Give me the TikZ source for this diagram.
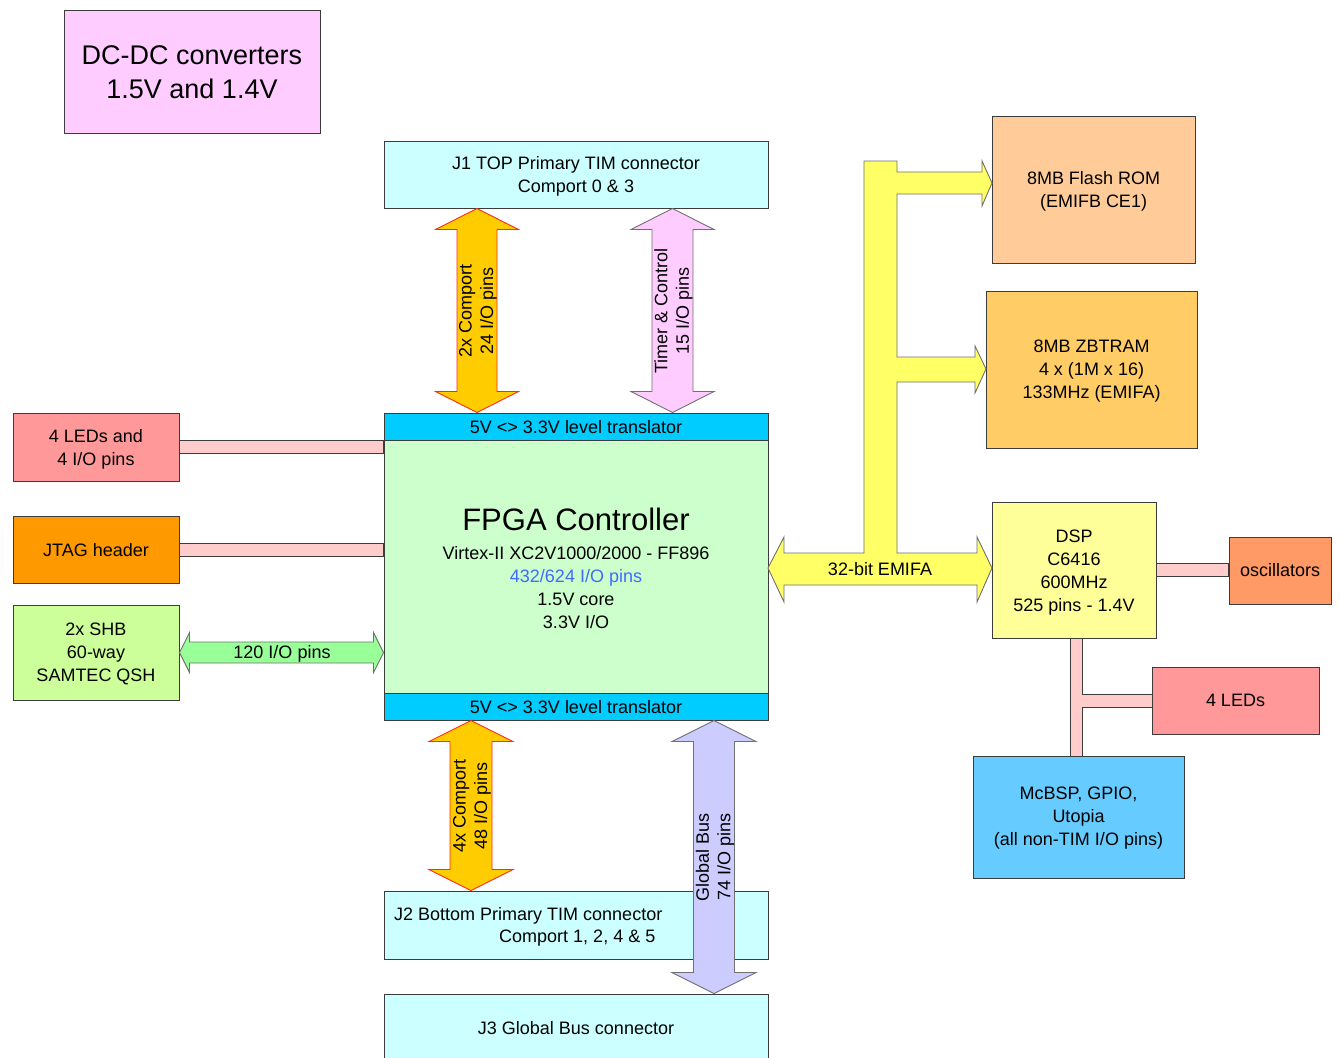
\documentclass[tikz,border=0pt]{standalone}
\usepackage{fontspec}
\setmainfont{Liberation Sans}
\usetikzlibrary{calc}
\definecolor{edge}{HTML}{3C3C3C}
\definecolor{cdcdc}{HTML}{FFCCFF}
\definecolor{cconn}{HTML}{CCFFFF}
\definecolor{ctrans}{HTML}{00CCFF}
\definecolor{cfpga}{HTML}{CCFFCC}
\definecolor{cleds}{HTML}{FF9999}
\definecolor{cjtag}{HTML}{FF9900}
\definecolor{cshb}{HTML}{CCFF99}
\definecolor{cgreenarr}{HTML}{99FF99}
\definecolor{ccomport}{HTML}{FFCC00}
\definecolor{credline}{HTML}{FF2A1A}
\definecolor{ctimer}{HTML}{FFCCFF}
\definecolor{cglobal}{HTML}{CCCCFF}
\definecolor{cemifa}{HTML}{FFFF66}
\definecolor{cflash}{HTML}{FFCC99}
\definecolor{czbt}{HTML}{FFCC66}
\definecolor{cdsp}{HTML}{FFFF99}
\definecolor{cosc}{HTML}{FF9966}
\definecolor{cmcbsp}{HTML}{66CCFF}
\definecolor{cbar}{HTML}{FFCCCC}
\definecolor{ciob}{HTML}{3F6BFF}
\definecolor{carrowedge}{HTML}{707070}
\newcommand\myfs[2]{\fontsize{#1}{#2}\selectfont}
% vertical fat double arrow: style, top tip, bottom tip, half body, half head, head length
\newcommand\vfat[6]{\filldraw[#1] let \p1=(#2), \p2=(#3) in
  (\x1,\y1) -- (\x1+#5pt,\y1-#6pt) -- (\x1+#4pt,\y1-#6pt) -- (\x1+#4pt,\y2+#6pt) --
  (\x1+#5pt,\y2+#6pt) -- (\x1,\y2) -- (\x1-#5pt,\y2+#6pt) -- (\x1-#4pt,\y2+#6pt) --
  (\x1-#4pt,\y1-#6pt) -- (\x1-#5pt,\y1-#6pt) -- cycle;}
% horizontal fat double arrow: style, left tip, right tip, half body, half head, head length
\newcommand\hfat[6]{\filldraw[#1] let \p1=(#2), \p2=(#3) in
  (\x1,\y1) -- (\x1+#6pt,\y1+#5pt) -- (\x1+#6pt,\y1+#4pt) -- (\x2-#6pt,\y1+#4pt) --
  (\x2-#6pt,\y1+#5pt) -- (\x2,\y1) -- (\x2-#6pt,\y1-#5pt) -- (\x2-#6pt,\y1-#4pt) --
  (\x1+#6pt,\y1-#4pt) -- (\x1+#6pt,\y1-#5pt) -- cycle;}
\tikzset{
  box/.style={draw=edge, line width=1pt, inner sep=0pt, align=center, font=\myfs{18}{23}},
  txt/.style={inner sep=0pt, align=center, font=\myfs{18}{23}},
  rtxt/.style={inner sep=0pt, align=center, rotate=90, font=\myfs{18}{21.5}},
  bar/.style={fill=cbar, draw=edge, line width=0.9pt},
  comportarrow/.style={fill=ccomport, draw=credline, line width=0.9pt},
  timerarrow/.style={fill=ctimer, draw=carrowedge, line width=0.9pt},
  globalarrow/.style={fill=cglobal, draw=carrowedge, line width=0.9pt},
  greenarrow/.style={fill=cgreenarr, draw=carrowedge, line width=0.9pt},
  emifabus/.style={fill=cemifa, draw=carrowedge, line width=0.9pt, line join=miter},
}
\begin{document}
\begin{tikzpicture}[x=1pt,y=-1pt]
\useasboundingbox (0,0) rectangle (1340,1057);
\fill[white] (0,0) rectangle (1340,1057);

% boxes
\node[box, fill=cdcdc, minimum width=256pt, minimum height=122pt] (dcdc) at (192,72) {};
\node[txt, font=\myfs{27}{34}] (dcdct) at ($(dcdc)+(0,0.5)$) {DC-DC converters\\1.5V and 1.4V};
\node[box, fill=cconn, minimum width=384pt, minimum height=67pt] (j1) at (576,174.5) {};
\node[txt] (j1t) at ($(j1)+(0,2)$) {J1 TOP Primary TIM connector\\Comport 0 \& 3};
\node[box, fill=cfpga, minimum width=384pt, minimum height=253pt] (fpga) at (576,566.5) {};
\node[box, fill=ctrans, minimum width=384pt, minimum height=27pt] (tr1) at (576,426.5) {};
\node[txt] (tr1t) at ($(tr1)+(0,1)$) {5V <> 3.3V level translator};
\node[box, fill=ctrans, minimum width=384pt, minimum height=27pt] (tr2) at (576,706.5) {};
\node[txt] (tr2t) at ($(tr2)+(0,1)$) {5V <> 3.3V level translator};
\node[txt, font=\myfs{31}{36}] (fpgat) at (576,519.5) {FPGA Controller};
\node[txt] (fpgai) at (576,587.5) {Virtex-II XC2V1000/2000 - FF896\\\textcolor{ciob}{432/624 I/O pins}\\1.5V core\\3.3V I/O};
\node[box, fill=cconn, minimum width=384pt, minimum height=68pt] (j2) at (576,925) {};
\node[txt, anchor=west] (j2a) at (394,915.5) {J2 Bottom Primary TIM connector};
\node[txt, anchor=east] (j2b) at (655.5,938.5) {Comport 1, 2, 4 \& 5};
\node[box, fill=cconn, minimum width=384pt, minimum height=68pt] (j3) at (576,1028) {J3 Global Bus connector};

\node[box, fill=cleds, minimum width=166pt, minimum height=68pt] (leds) at (96,447) {};
\node[txt] (ledst) at ($(leds)+(0,2)$) {4 LEDs and\\4 I/O pins};
\node[box, fill=cjtag, minimum width=166pt, minimum height=67pt] (jtag) at (96,549.5) {};
\node[txt] (jtagt) at ($(jtag)+(0,1)$) {JTAG header};
\node[box, fill=cshb, minimum width=166pt, minimum height=95pt] (shb) at (96,652.5) {};
\node[txt] (shbt) at ($(shb)+(0,1)$) {2x SHB\\60-way\\SAMTEC QSH};

\node[box, fill=cflash, minimum width=203pt, minimum height=147pt] (flash) at (1093.5,189.5) {};
\node[txt] (flasht) at ($(flash)+(0,2)$) {8MB Flash ROM\\(EMIFB CE1)};
\node[box, fill=czbt, minimum width=211pt, minimum height=157pt] (zbt) at (1091.5,369.5) {};
\node[txt] (zbtt) at ($(zbt)+(0,2)$) {8MB ZBTRAM\\4 x (1M x 16)\\133MHz (EMIFA)};
\node[box, fill=cdsp, minimum width=164pt, minimum height=136pt] (dsp) at (1074,570) {};
\node[txt] (dspt) at ($(dsp)+(0,3)$) {DSP\\C6416\\600MHz\\525 pins - 1.4V};
\node[box, fill=cosc, minimum width=102pt, minimum height=67pt] (osc) at (1280,570.5) {oscillators};
\node[box, fill=cleds, minimum width=167pt, minimum height=67pt] (leds2) at (1235.5,700.5) {4 LEDs};
\node[box, fill=cmcbsp, minimum width=211pt, minimum height=122pt] (mcbsp) at (1078.5,817) {};
\node[txt] (mcbspt) at ($(mcbsp)+(0,1)$) {McBSP, GPIO,\\Utopia\\(all non-TIM I/O pins)};

% thin pink links
\filldraw[bar] ($(leds.east)+(0,-6.5)$) rectangle ($(fpga.west |- leds.east)+(0,6.5)$);
\filldraw[bar] ($(jtag.east)+(0,-6.5)$) rectangle ($(fpga.west |- jtag.east)+(0,6.5)$);
\filldraw[bar] ($(dsp.east)+(0,-6.5)$) rectangle ($(osc.west |- dsp.east)+(0,6.5)$);
\filldraw[bar] (1070,638) -- (1082,638) -- (1082,694) -- (1152,694) -- (1152,707) -- (1082,707) -- (1082,756) -- (1070,756) -- cycle;

% fat arrows
\coordinate (ca) at (477,0);
\coordinate (cb) at (672.5,0);
\coordinate (cc) at (471,0);
\coordinate (cd) at (714,0);
\vfat{comportarrow}{j1.south -| ca}{tr1.north -| ca}{20}{41.5}{21}
\vfat{timerarrow}{j1.south -| cb}{tr1.north -| cb}{20.5}{41.5}{21}
\vfat{comportarrow}{tr2.south -| cc}{j2.north -| cc}{21}{42}{21}
\vfat{globalarrow}{tr2.south -| cd}{j3.north -| cd}{20.5}{42}{21}
\hfat{greenarrow}{shb.east}{fpga.west |- shb.east}{10.5}{20}{10}

% 32-bit EMIFA bus
\filldraw[emifabus] (768,568) -- (784,537) -- (784,553) -- (864,553) -- (864,161) -- (897,161) -- (897,172) -- (982,172) -- (982,161) -- (992,183) -- (982,206) -- (982,194) -- (897,194) -- (897,357) -- (975,357) -- (975,346) -- (986,369) -- (975,393) -- (975,382) -- (897,382) -- (897,553) -- (977,553) -- (977,537) -- (992,568) -- (977,602) -- (977,585) -- (784,585) -- (784,602) -- cycle;

% arrow labels
\node[rtxt] (la) at (478,311) {2x Comport\\24 I/O pins};
\node[rtxt] (lb) at (673.5,311) {Timer \& Control\\15 I/O pins};
\node[rtxt] (lc) at (472,806) {4x Comport\\48 I/O pins};
\node[rtxt] (ld) at (715,857) {Global Bus\\74 I/O pins};
\node[txt] (le) at (282,654) {120 I/O pins};
\node[txt] (lf) at (880,569) {32-bit EMIFA};
\end{tikzpicture}
\end{document}
